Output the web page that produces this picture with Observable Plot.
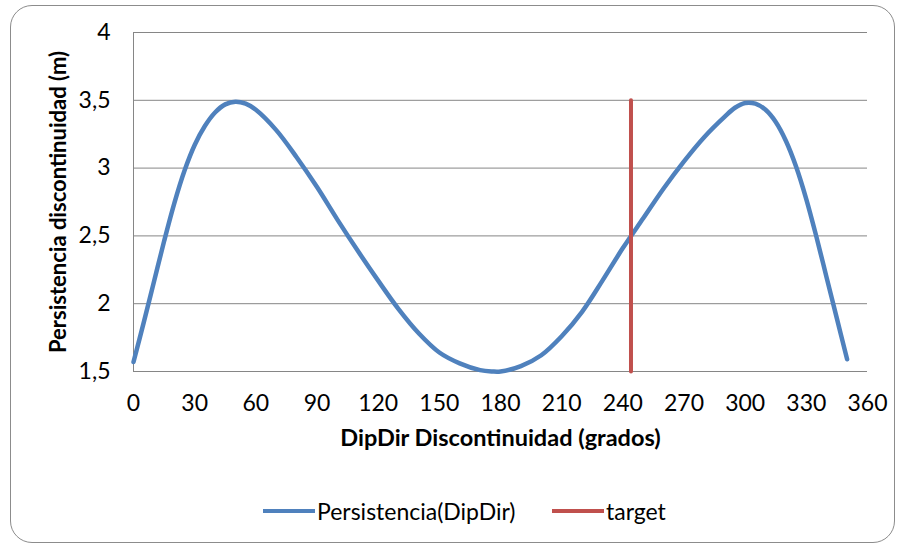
<!DOCTYPE html>
<html><head><meta charset="utf-8">
<script src="https://cdn.jsdelivr.net/npm/d3@7"></script>
<script src="https://cdn.jsdelivr.net/npm/@observablehq/plot@0.6"></script>
<style>
body{margin:0;background:#fff;}
#wrap{position:relative;width:906px;height:547px;overflow:hidden;font-family:Lato,sans-serif;background:#fff;}
#border{position:absolute;left:10px;top:5px;width:885px;height:538px;border:1.5px solid #8c8c8c;border-radius:22px;box-sizing:border-box;pointer-events:none;}
#chart{position:absolute;left:0;top:0;}
#legend{position:absolute;top:497px;left:263px;height:28px;font-size:23px;color:#000;white-space:nowrap;}
.item{position:absolute;top:0;display:flex;align-items:center;height:28px;}
.sw{display:inline-block;width:52px;height:4px;margin-right:2px;}
</style>
</head><body>
<div id="wrap">
  <div id="chart"></div>
  <div id="legend"></div>
  <div id="border"></div>
</div>
<script>
// Series values
const dipDir = [0,5,10,15,20,25,30,35,40,45,50,55,60,70,80,90,100,110,120,130,140,150,160,170,176,180,190,200,210,220,230,240,250,260,270,280,290,295,300,305,310,315,320,325,330,335,340,345,350];
const persistencia = [1.57,1.86,2.16,2.46,2.74,2.98,3.17,3.31,3.41,3.47,3.49,3.475,3.43,3.28,3.08,2.86,2.62,2.39,2.17,1.96,1.78,1.64,1.56,1.51,1.50,1.50,1.54,1.62,1.76,1.94,2.17,2.41,2.63,2.85,3.05,3.23,3.38,3.445,3.48,3.475,3.43,3.34,3.20,3.01,2.77,2.49,2.19,1.89,1.59];
const targetX = [244, 244];
const targetY = [1.5, 3.5];
const xTicks = [0,30,60,90,120,150,180,210,240,270,300,330,360];
const yTicks = [1.5,2,2.5,3,3.5,4];
const seriesNames = ["Persistencia(DipDir)", "target"];
const seriesColors = ["#4F81BD", "#C0504D"];
const xTitle = "DipDir Discontinuidad (grados)";
const yTitle = "Persistencia discontinuidad (m)";

const curveData = dipDir.map((d, i) => ({x: d, y: persistencia[i]}));
const targetData = targetX.map((d, i) => ({x: d, y: targetY[i]}));

const chart = Plot.plot({
  width: 906, height: 547,
  marginLeft: 133, marginRight: 39, marginTop: 32, marginBottom: 176,
  style: {fontFamily: "Lato, sans-serif", fontSize: "23px", color: "#000", background: "transparent"},
  x: {domain: [0, 360]},
  y: {domain: [1.5, 4]},
  marks: [
    Plot.gridY(yTicks, {stroke: "#868686", strokeOpacity: 1, strokeWidth: 1}),
    Plot.ruleX([0], {stroke: "#868686", strokeWidth: 1}),
    Plot.axisX(xTicks, {tickSize: 0, tickPadding: 23, label: null, fontSize: 23}),
    Plot.axisY(yTicks, {tickSize: 0, tickPadding: 23, label: null, fontSize: 23, tickFormat: d => String(d).replace(".", ",")}),
    Plot.text([xTitle], {text: d => d, frameAnchor: "bottom", dy: 74, fontWeight: "bold", fontSize: 23.5}),
    Plot.text([yTitle], {text: d => d, frameAnchor: "left", textAnchor: "middle", dx: -75, rotate: -90, fontWeight: "bold", fontSize: 22}),
    Plot.line(curveData, {x: "x", y: "y", stroke: seriesColors[0], strokeWidth: 4.5, curve: "catmull-rom"}),
    Plot.line(targetData, {x: "x", y: "y", stroke: seriesColors[1], strokeWidth: 4})
  ]
});
document.getElementById("chart").appendChild(chart);

const legend = document.getElementById("legend");
const offsets = [0, 289];
seriesNames.forEach((name, i) => {
  const item = document.createElement("div");
  item.className = "item";
  item.style.left = offsets[i] + "px";
  const sw = document.createElement("span");
  sw.className = "sw";
  sw.style.background = seriesColors[i];
  const t = document.createElement("span");
  t.textContent = name;
  item.appendChild(sw);
  item.appendChild(t);
  legend.appendChild(item);
});
</script>
</body></html>
